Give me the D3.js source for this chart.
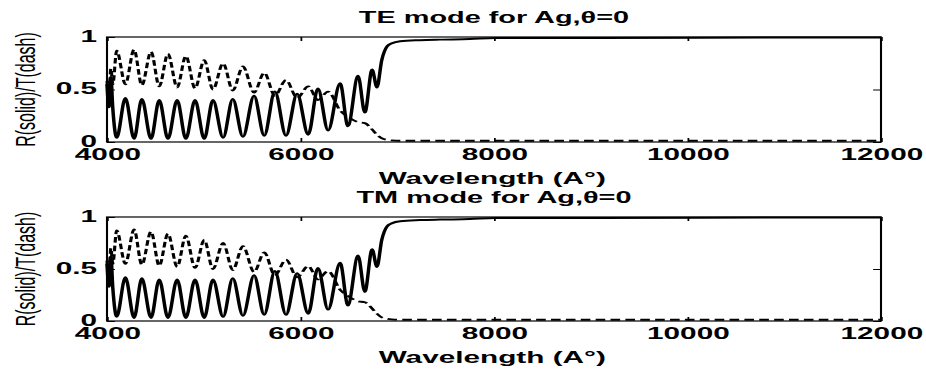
<!DOCTYPE html>
<html>
<head>
<meta charset="utf-8">
<script src="https://cdn.jsdelivr.net/npm/d3@7"></script>
<style>
  body { margin: 0; background: #fff; }
  text { font-family: "Liberation Sans", Arial, sans-serif; fill: #000; }
</style>
</head>
<body>
<svg id="chart" width="926" height="369"></svg>
<script>
const titles = ['TE mode for Ag,\u03b8=0', 'TM mode for Ag,\u03b8=0'];
const xTicks = [4000, 6000, 8000, 10000, 12000];
const yTicks = [0, 0.5, 1];

// reflectance (solid) at peaks / troughs
const wlR = [4000, 4020, 4040, 4060, 4100, 4190, 4280, 4360, 4455, 4540, 4630, 4725, 4815, 4910,
    5005, 5095, 5200, 5300, 5405, 5520, 5625, 5735, 5850, 5965, 6080, 6180, 6285, 6410, 6490, 6595,
    6665, 6740, 6790, 6840, 6895, 6945, 7030, 7235, 7440, 7750, 8010, 9100, 11160, 12000];
const valR = [0.55, 0.33, 0.62, 0.32, 0.04, 0.42, 0.03, 0.41, 0.03, 0.40, 0.03, 0.40, 0.03, 0.40,
    0.03, 0.40, 0.04, 0.41, 0.05, 0.44, 0.06, 0.48, 0.06, 0.46, 0.07, 0.51, 0.11, 0.56, 0.15, 0.63,
    0.28, 0.69, 0.52, 0.78, 0.91, 0.94, 0.96, 0.97, 0.975, 0.98, 0.99, 0.99, 0.995, 0.995];

// transmittance (dash)
const wlT = [4000, 4020, 4040, 4060, 4100, 4190, 4280, 4360, 4455, 4540, 4630, 4725, 4815, 4910,
    5005, 5095, 5200, 5300, 5405, 5520, 5625, 5735, 5850, 5965, 6080, 6180, 6285, 6410, 6490, 6595,
    6665, 6740, 6790, 6840, 6945, 7030, 12000];
const valT = [0.58, 0.45, 0.70, 0.55, 0.87, 0.55, 0.88, 0.54, 0.86, 0.53, 0.84, 0.52, 0.82, 0.51,
    0.78, 0.50, 0.75, 0.49, 0.72, 0.47, 0.66, 0.44, 0.59, 0.42, 0.53, 0.40, 0.48, 0.30, 0.24, 0.19,
    0.18, 0.12, 0.07, 0.035, 0.015, 0.012, 0.012];

// the original figure is stretched sideways, so draw in a narrow frame and scale it
const stretch = 1.75;
const left = 107 / stretch;
const right = 881 / stretch;
const panels = [
    { top: 37, bottom: 142 },
    { top: 217, bottom: 321 },
];

const svg = d3.select('#chart');
const root = svg.append('g').attr('transform', `scale(${stretch},1)`);

const x = d3.scaleLinear().domain([4000, 12000]).range([left, right]);
const rData = wlR.map((w, i) => [w, valR[i]]);
const tData = wlT.map((w, i) => [w, valT[i]]);

panels.forEach((p, i) => {
    const y = d3.scaleLinear().domain([0, 1]).range([p.bottom, p.top]);
    const g = root.append('g');

    const line = d3.line()
        .x((d) => x(d[0]))
        .y((d) => y(d[1]))
        .curve(d3.curveMonotoneX);

    // curves
    g.append('path')
        .datum(tData)
        .attr('d', line)
        .attr('fill', 'none')
        .attr('stroke', '#000')
        .attr('stroke-width', 1.8)
        .attr('stroke-dasharray', '5.5,3');

    g.append('path')
        .datum(rData)
        .attr('d', line)
        .attr('fill', 'none')
        .attr('stroke', '#000')
        .attr('stroke-width', 2);

    // axes, ticks pointing inward like matlab
    const bottomAx = g.append('g')
        .attr('transform', `translate(0,${p.bottom})`)
        .call(d3.axisBottom(x).tickValues(xTicks).tickSizeInner(-4).tickSizeOuter(0).tickFormat(d3.format('d')));
    bottomAx.selectAll('text').attr('y', 18.5).attr('dy', 0);

    g.append('g')
        .attr('transform', `translate(0,${p.top})`)
        .call(d3.axisTop(x).tickValues(xTicks).tickSizeInner(-4).tickSizeOuter(0).tickFormat(''));

    const leftAx = g.append('g')
        .attr('transform', `translate(${left},0)`)
        .call(d3.axisLeft(y).tickValues(yTicks).tickSizeInner(-4.5).tickSizeOuter(0).tickFormat(d3.format('')));
    leftAx.selectAll('text').attr('x', -5.7).attr('dy', '0.26em');

    g.append('g')
        .attr('transform', `translate(${right},0)`)
        .call(d3.axisRight(y).tickValues(yTicks).tickSizeInner(-4.5).tickSizeOuter(0).tickFormat(''));

    g.selectAll('.domain').remove();
    g.selectAll('.tick line').attr('stroke', '#000').attr('stroke-width', 1);
    g.selectAll('.tick text')
        .attr('font-family', '"Liberation Sans", Arial, sans-serif')
        .attr('font-size', 17)
        .attr('font-weight', 'bold')
        .attr('fill', '#000');

    g.append('rect')
        .attr('x', left)
        .attr('y', p.top)
        .attr('width', right - left)
        .attr('height', p.bottom - p.top)
        .attr('fill', 'none')
        .attr('stroke', '#000')
        .attr('stroke-width', 1.2);

    // titles and labels
    g.append('text')
        .text(titles[i])
        .attr('x', (left + right) / 2)
        .attr('y', p.top - 13.5)
        .attr('text-anchor', 'middle')
        .attr('font-size', 16.5)
        .attr('font-weight', 'bold');

    g.append('text')
        .text('Wavelength (A\u00b0)')
        .attr('x', (left + right) / 2 - 1)
        .attr('y', p.bottom + 42)
        .attr('text-anchor', 'middle')
        .attr('font-size', 17)
        .attr('font-weight', 'bold');

    g.append('text')
        .text('R(solid)/T(dash)')
        .attr('text-anchor', 'middle')
        .attr('font-size', 16)
        .attr('transform', `translate(20,${(p.top + p.bottom) / 2}) rotate(-90)`);
});
</script>
</body>
</html>
